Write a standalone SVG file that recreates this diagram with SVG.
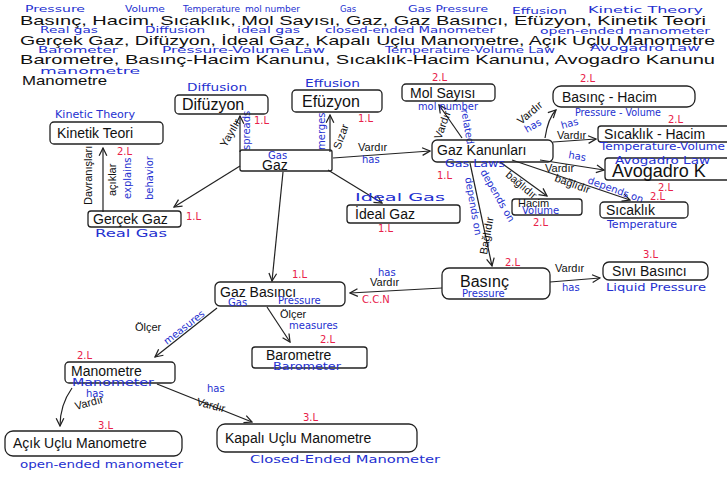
<svg xmlns="http://www.w3.org/2000/svg" width="727" height="479" viewBox="0 0 727 479">
<defs>
<marker id="ah" viewBox="0 0 10 10" refX="9" refY="5" markerWidth="8" markerHeight="8" orient="auto-start-reverse">
<path d="M1,1 L9,5 L1,9" fill="none" stroke="#222" stroke-width="1.3"/>
</marker>
</defs>
<style>
.bx{fill:none;stroke:#222;stroke-width:1.3}
.k{font-family:"Liberation Sans",Arial,sans-serif;font-size:14px;fill:#111}
.kh{font-family:"Liberation Sans",Arial,sans-serif;font-size:16px;fill:#111}
.hd{font-family:"Liberation Sans",Arial,sans-serif;font-size:13px;fill:#111}
.hb{font-family:"DejaVu Sans",sans-serif;font-size:8.5px;fill:#2430d0}
.b{font-family:"DejaVu Sans",sans-serif;font-size:10px;fill:#2430d0}
.r{font-family:"DejaVu Sans",sans-serif;font-size:10px;fill:#e8204a}
.lk{font-family:"Liberation Sans",Arial,sans-serif;font-size:11px;fill:#111}
.ln{fill:none;stroke:#222;stroke-width:1.2}
</style>
<rect width="727" height="479" fill="#fff"/>

<g id="header">
<text class="hb" x="25" y="12" textLength="60" lengthAdjust="spacingAndGlyphs">Pressure</text>
<text class="hb" x="125" y="12" textLength="40" lengthAdjust="spacingAndGlyphs">Volume</text>
<text class="hb" x="183" y="12" textLength="57" lengthAdjust="spacingAndGlyphs">Temperature</text>
<text class="hb" x="245" y="12" textLength="55" lengthAdjust="spacingAndGlyphs">mol number</text>
<text class="hb" x="340" y="12">Gas</text>
<text class="hb" x="408" y="12" textLength="80" lengthAdjust="spacingAndGlyphs">Gas Pressure</text>
<text class="hb" x="512" y="14" textLength="55" lengthAdjust="spacingAndGlyphs">Effusion</text>
<text class="hb" x="588" y="13" textLength="115" lengthAdjust="spacingAndGlyphs">Kinetic Theory</text>
<text class="hd" x="20" y="25" textLength="686" lengthAdjust="spacingAndGlyphs">Basınç, Hacim, Sıcaklık, Mol Sayısı, Gaz, Gaz Basıncı, Efüzyon, Kinetik Teori</text>
<text class="hb" x="40" y="33" textLength="58" lengthAdjust="spacingAndGlyphs">Real gas</text>
<text class="hb" x="145" y="33" textLength="60" lengthAdjust="spacingAndGlyphs">Diffusion</text>
<text class="hb" x="237" y="33" textLength="63" lengthAdjust="spacingAndGlyphs">ideal gas</text>
<text class="hb" x="325" y="33" textLength="170" lengthAdjust="spacingAndGlyphs">closed-ended Manometer</text>
<text class="hb" x="540" y="34" textLength="170" lengthAdjust="spacingAndGlyphs">open-ended manometer</text>
<text class="hd" x="20" y="45" textLength="695" lengthAdjust="spacingAndGlyphs">Gerçek Gaz, Difüzyon, İdeal Gaz, Kapalı Uçlu Manometre, Açık Uçlu Manometre</text>
<text class="hb" x="38" y="53" textLength="80" lengthAdjust="spacingAndGlyphs">Barometer</text>
<text class="hb" x="162" y="53" textLength="163" lengthAdjust="spacingAndGlyphs">Pressure-Volume Law</text>
<text class="hb" x="385" y="53" textLength="170" lengthAdjust="spacingAndGlyphs">Temperature-Volume Law</text>
<text class="hb" x="590" y="51" textLength="110" lengthAdjust="spacingAndGlyphs">Avogadro Law</text>
<text class="hd" x="20" y="64" textLength="695" lengthAdjust="spacingAndGlyphs">Barometre, Basınç-Hacim Kanunu, Sıcaklık-Hacim Kanunu, Avogadro Kanunu</text>
<text class="hb" x="40" y="74" textLength="100" lengthAdjust="spacingAndGlyphs">manometre</text>
<text class="hd" x="22" y="85" textLength="85" lengthAdjust="spacingAndGlyphs">Manometre</text>
</g>

<g id="connectors">
<!-- Gaz -> Difüzyon -->
<path class="ln" d="M240,152 L240,116" marker-end="url(#ah)"/>
<text class="lk" transform="translate(226,148) rotate(-60)">Yayılır</text>
<text class="b" transform="translate(250,150) rotate(-90)">spreads</text>
<!-- Gaz -> Efüzyon -->
<path class="ln" d="M330,152 L330,115" marker-end="url(#ah)"/>
<text class="b" transform="translate(325,150) rotate(-90)">merges</text>
<text class="lk" transform="translate(340,150) rotate(-70)">Sızar</text>
<!-- Gaz -> Gaz Kanunları -->
<path class="ln" d="M333,158 L430,151" marker-end="url(#ah)"/>
<text class="lk" x="358" y="151">Vardır</text>
<text class="b" x="362" y="163">has</text>
<!-- Gaz -> Gerçek Gaz -->
<path class="ln" d="M240,166 L174,207" marker-end="url(#ah)"/>
<!-- Gaz -> İdeal Gaz -->
<path class="ln" d="M328,170 L382,203" marker-end="url(#ah)"/>
<!-- Gaz -> Gaz Basıncı -->
<path class="ln" d="M283,172 L272,281" marker-end="url(#ah)"/>
<!-- Gerçek Gaz -> Kinetik Teori -->
<path class="ln" d="M103,212 L103,148" marker-end="url(#ah)"/>
<text class="lk" transform="translate(92,205) rotate(-90)">Davranışları</text>
<text class="lk" transform="translate(116,196) rotate(-90)">açıklar</text>
<text class="b" transform="translate(131,199) rotate(-90)">explains</text>
<text class="b" transform="translate(153,200) rotate(-90)">behavior</text>
<!-- Gaz Kanunları -> Mol Sayısı -->
<path class="ln" d="M462,138 L439,105" marker-end="url(#ah)"/>
<text class="lk" transform="translate(441,140) rotate(-70)">Vardır</text>
<text class="b" transform="translate(461,110) rotate(80)">related</text>
<!-- Gaz Kanunları -> Basınç-Hacim -->
<path class="ln" d="M545,138 Q548,118 556,110" marker-end="url(#ah)"/>
<text class="lk" transform="translate(521,125) rotate(-40)">Vardır</text>
<text class="b" transform="translate(527,133) rotate(-30)">has</text>
<!-- Gaz Kanunları -> Sıcaklık-Hacim -->
<path class="ln" d="M553,142 L596,139" marker-end="url(#ah)"/>
<text class="b" x="562" y="129" transform="rotate(-15,562,129)">has</text>
<text class="lk" x="557" y="139">Vardır</text>
<!-- Gaz Kanunları -> Avogadro -->
<path class="ln" d="M540,160 L604,170" marker-end="url(#ah)"/>
<text class="b" x="568" y="158" transform="rotate(10,568,158)">has</text>
<text class="lk" x="545" y="172">Vardır</text>
<!-- Gaz Kanunları -> Hacim -->
<path class="ln" d="M500,162 L547,196" marker-end="url(#ah)"/>
<text class="b" transform="translate(480,172) rotate(60)">depends on</text>
<text class="lk" transform="translate(505,176) rotate(40)">bağlıdır</text>
<!-- Gaz Kanunları -> Sıcaklık -->
<path class="ln" d="M512,160 L630,200" marker-end="url(#ah)"/>
<text class="lk" transform="translate(554,181) rotate(20)">bağlıdır</text>
<text class="b" transform="translate(587,183) rotate(20)">depends on</text>
<!-- Gaz Kanunları -> Basınç -->
<path class="ln" d="M470,163 L492,266" marker-end="url(#ah)"/>
<text class="b" transform="translate(465,178) rotate(80)">depends on</text>
<text class="lk" transform="translate(487,255) rotate(-80)">Bağlıdır</text>
<!-- Basınç -> Gaz Basıncı -->
<path class="ln" d="M442,288 L350,293" marker-end="url(#ah)"/>
<text class="b" x="378" y="276">has</text>
<text class="lk" x="370" y="286">Vardır</text>
<text class="r" x="362" y="303">C.C.N</text>
<!-- Basınç -> Sıvı Basıncı -->
<path class="ln" d="M550,282 L600,278" marker-end="url(#ah)"/>
<text class="lk" x="555" y="272">Vardır</text>
<text class="b" x="562" y="291">has</text>
<!-- Gaz Basıncı -> Barometre -->
<path class="ln" d="M267,307 L290,342" marker-end="url(#ah)"/>
<text class="lk" x="280" y="318">Ölçer</text>
<text class="b" x="289" y="329">measures</text>
<!-- Gaz Basıncı -> Manometre -->
<path class="ln" d="M217,308 L155,357" marker-end="url(#ah)"/>
<text class="lk" x="135" y="331">Ölçer</text>
<text class="b" transform="translate(167,345) rotate(-38)">measures</text>
<!-- Manometre -> Açık Uçlu -->
<path class="ln" d="M72,388 Q60,405 60,426" marker-end="url(#ah)"/>
<text class="b" x="86" y="397">has</text>
<text class="lk" x="76" y="410" transform="rotate(-15,76,410)">Vardır</text>
<!-- Manometre -> Kapalı Uçlu -->
<path class="ln" d="M157,384 L252,422" marker-end="url(#ah)"/>
<text class="b" x="207" y="392">has</text>
<text class="lk" x="196" y="405" transform="rotate(15,196,405)">Vardır</text>
</g>

<g id="n-difuzyon">
<rect class="bx" x="175" y="95" width="93" height="19" rx="4"/>
<text class="b" x="187" y="91" textLength="60" lengthAdjust="spacingAndGlyphs">Diffusion</text>
<text class="kh" x="182" y="110">Difüzyon</text>
<text class="r" x="254" y="124">1.L</text>
</g>
<g id="n-efuzyon">
<rect class="bx" x="292" y="90" width="90" height="22" rx="4"/>
<text class="b" x="305" y="87" textLength="55" lengthAdjust="spacingAndGlyphs">Effusion</text>
<text class="kh" x="302" y="107">Efüzyon</text>
<text class="r" x="358" y="122">1.L</text>
</g>
<g id="n-mol">
<rect class="bx" x="402" y="84" width="93" height="17" rx="4"/>
<text class="r" x="432" y="81">2.L</text>
<text class="k" x="410" y="98">Mol Sayısı</text>
<text class="b" x="418" y="110" textLength="60" lengthAdjust="spacingAndGlyphs">mol number</text>
</g>
<g id="n-kinetik">
<rect class="bx" x="50" y="122" width="113" height="22" rx="4"/>
<text class="b" x="55" y="118" textLength="80" lengthAdjust="spacingAndGlyphs">Kinetic Theory</text>
<text class="k" x="57" y="138">Kinetik Teori</text>
<text class="r" x="117" y="155">2.L</text>
</g>
<g id="n-gaz">
<rect class="bx" x="240" y="150" width="92" height="21" rx="2"/>
<text class="b" x="268" y="159">Gas</text>
<text class="k" x="262" y="170">Gaz</text>
</g>
<g id="n-gazkanun">
<rect class="bx" x="432" y="140" width="121" height="22" rx="5"/>
<text class="k" x="437" y="155">Gaz Kanunları</text>
<text class="b" x="445" y="167" textLength="60" lengthAdjust="spacingAndGlyphs">Gas Laws</text>
<text class="r" x="437" y="179">1.L</text>
</g>
<g id="n-basinchacim">
<rect class="bx" x="553" y="86" width="142" height="21" rx="8"/>
<text class="r" x="580" y="82">2.L</text>
<text class="k" x="562" y="102">Basınç - Hacim</text>
<text class="b" x="575" y="116" textLength="86" lengthAdjust="spacingAndGlyphs">Pressure - Volume</text>
</g>
<g id="n-sicaklikhacim">
<rect class="bx" x="598" y="126" width="135" height="16" rx="3"/>
<text class="r" x="668" y="123">2.L</text>
<text class="k" x="604" y="139">Sıcaklık - Hacim</text>
<text class="b" x="600" y="150" textLength="125" lengthAdjust="spacingAndGlyphs">Temperature-Volume</text>
</g>
<g id="n-avogadro">
<rect class="bx" x="605" y="158" width="130" height="22" rx="3"/>
<text class="b" x="615" y="164" textLength="95" lengthAdjust="spacingAndGlyphs">Avogadro Law</text>
<text class="kh" x="612" y="177" style="font-size:18px">Avogadro K</text>
<text class="r" x="658" y="191">2.L</text>
</g>
<g id="n-hacim">
<rect class="bx" x="512" y="199" width="70" height="16" rx="3"/>
<text class="lk" x="518" y="207">Hacim</text>
<text class="b" x="522" y="214">Volume</text>
<text class="r" x="533" y="226">2.L</text>
</g>
<g id="n-sicaklik">
<rect class="bx" x="600" y="202" width="88" height="16" rx="4"/>
<text class="r" x="650" y="200">2.L</text>
<text class="k" x="606" y="215">Sıcaklık</text>
<text class="b" x="607" y="228" textLength="70" lengthAdjust="spacingAndGlyphs">Temperature</text>
</g>
<g id="n-gercek">
<rect class="bx" x="88" y="211" width="93" height="16" rx="3"/>
<text class="k" x="93" y="224">Gerçek Gaz</text>
<text class="b" x="95" y="237" textLength="72" lengthAdjust="spacingAndGlyphs">Real Gas</text>
<text class="r" x="186" y="220">1.L</text>
</g>
<g id="n-ideal">
<rect class="bx" x="347" y="205" width="113" height="18" rx="3"/>
<text class="b" x="355" y="201" textLength="90" lengthAdjust="spacingAndGlyphs">Ideal Gas</text>
<text class="k" x="355" y="219">İdeal Gaz</text>
<text class="r" x="378" y="232">1.L</text>
</g>
<g id="n-gazbasinci">
<rect class="bx" x="215" y="282" width="130" height="24" rx="5"/>
<text class="r" x="292" y="278">1.L</text>
<text class="k" x="220" y="297">Gaz Basıncı</text>
<text class="b" x="228" y="306">Gas</text>
<text class="b" x="278" y="304">Pressure</text>
</g>
<g id="n-basinc">
<rect class="bx" x="442" y="268" width="108" height="31" rx="7"/>
<text class="r" x="505" y="266">2.L</text>
<text class="kh" x="460" y="287">Basınç</text>
<text class="b" x="462" y="297">Pressure</text>
</g>
<g id="n-sivi">
<rect class="bx" x="603" y="262" width="105" height="18" rx="6"/>
<text class="r" x="643" y="258">3.L</text>
<text class="k" x="612" y="276">Sıvı Basıncı</text>
<text class="b" x="606" y="291" textLength="100" lengthAdjust="spacingAndGlyphs">Liquid Pressure</text>
</g>
<g id="n-barometre">
<rect class="bx" x="252" y="347" width="115" height="21" rx="3"/>
<text class="r" x="320" y="343">2.L</text>
<text class="k" x="266" y="360">Barometre</text>
<text class="b" x="273" y="370" textLength="68" lengthAdjust="spacingAndGlyphs">Barometer</text>
</g>
<g id="n-manometre">
<rect class="bx" x="65" y="362" width="110" height="21" rx="4"/>
<text class="r" x="77" y="359">2.L</text>
<text class="k" x="71" y="376">Manometre</text>
<text class="b" x="72" y="386" textLength="82" lengthAdjust="spacingAndGlyphs">Manometer</text>
</g>
<g id="n-acik">
<rect class="bx" x="5" y="431" width="177" height="25" rx="8"/>
<text class="r" x="98" y="429">3.L</text>
<text class="k" x="13" y="448">Açık Uçlu Manometre</text>
<text class="b" x="20" y="468" textLength="163" lengthAdjust="spacingAndGlyphs">open-ended manometer</text>
</g>
<g id="n-kapali">
<rect class="bx" x="217" y="424" width="200" height="28" rx="8"/>
<text class="r" x="303" y="421">3.L</text>
<text class="k" x="225" y="443">Kapalı Uçlu Manometre</text>
<text class="b" x="250" y="463" textLength="190" lengthAdjust="spacingAndGlyphs">Closed-Ended Manometer</text>
</g>
</svg>
